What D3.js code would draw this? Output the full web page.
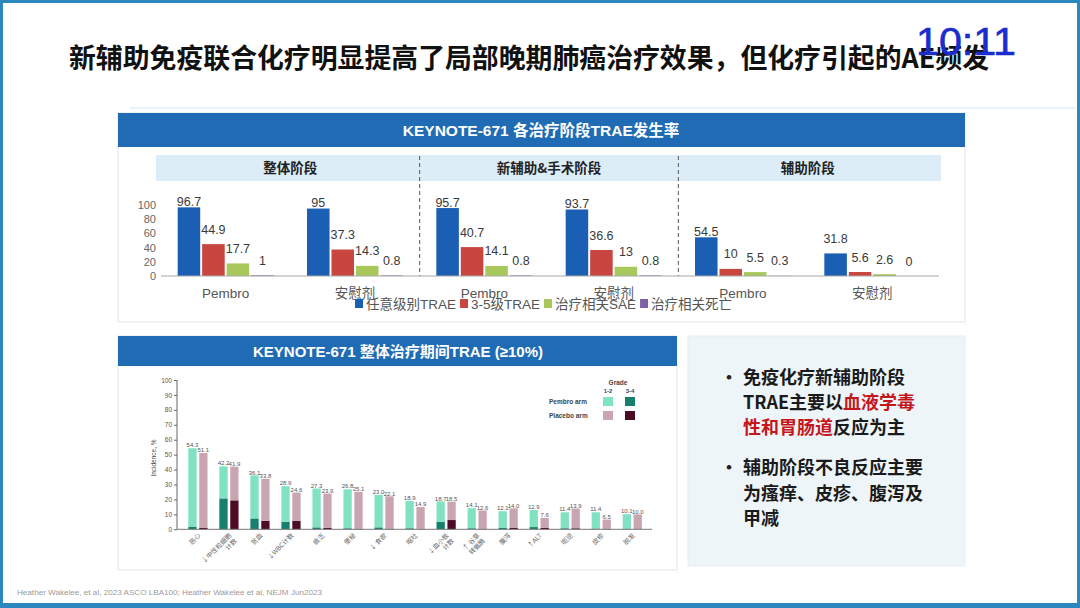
<!DOCTYPE html>
<html>
<head>
<meta charset="utf-8">
<script src="https://cdn.jsdelivr.net/npm/d3@7"></script>
<style>
body { margin: 0; background: #fff; }
svg { display: block; }
</style>
</head>
<body>
<svg id="slide" width="1080" height="608"></svg>
<script>
// ---- data: top chart (KEYNOTE-671 TRAE by phase)
const phases = ["整体阶段", "新辅助&手术阶段", "辅助阶段"];
const arms = ["Pembro", "安慰剂"];
const trSeries = ["任意级别TRAE", "3-5级TRAE", "治疗相关SAE", "治疗相关死亡"];
const anyGrade = [96.7, 95, 95.7, 93.7, 54.5, 31.8];
const grade35 = [44.9, 37.3, 40.7, 36.6, 10, 5.6];
const relatedSAE = [17.7, 14.3, 14.1, 13, 5.5, 2.6];
const relatedDeath = [1, 0.8, 0.8, 0.8, 0.3, 0];
const topTicks = [0, 20, 40, 60, 80, 100];

// ---- data: bottom chart (TRAE >= 10%)
const aeLabels = ["恶心", "↓中性粒细胞\n计数", "贫血", "↓WBC计数", "疲乏", "便秘", "↓ 食欲", "呕吐",
    "↓血小板\n计数", "↑ 谷草\n转氨酶", "腹泻", "↑ALT", "呃逆", "皮疹", "脱发"];
const pembroAll = [54.3, 42.2, 36.1, 28.9, 27.3, 26.8, 23.0, 18.9, 18.7, 14.1, 12.1, 12.9, 11.4, 11.4, 10.1];
const pembroG34 = [1.8, 20.7, 7.3, 5.1, 1.3, 0.7, 1.3, 0.7, 5.1, 0.7, 0.9, 1.5, 0.7, 0.5, 0.2];
const placeboAll = [51.1, 41.9, 33.8, 24.6, 23.9, 25.1, 22.1, 14.9, 18.5, 12.6, 14.0, 7.6, 13.9, 6.5, 10.0];
const placeboG34 = [1.1, 19.4, 5.6, 5.6, 0.9, 0.3, 0.4, 0.3, 6.2, 0.3, 0.9, 0.9, 0.7, 0.3, 0];
const bottomTicks = d3.range(0, 101, 10);

const sans = "'Liberation Sans', 'Noto Sans CJK SC', sans-serif";
const cjk = "'Noto Sans CJK SC', sans-serif";
const trColors = ["#1a5fb4", "#c8463f", "#a8c85c", "#7d5fa5"];
const armColors = {pembro: ["#80e2c3", "#16806c"], placebo: ["#c9a5b0", "#4d0b25"]};

const svg = d3.select("#slide");

// slide frame + title
svg.append("rect").attr("width", 1080).attr("height", 608).attr("fill", "#fff");
svg.append("line").attr("x1", 130).attr("x2", 1076).attr("y1", 108).attr("y2", 108)
    .attr("stroke", "#dcf0f8").attr("stroke-width", 1.5);
svg.append("text")
    .attr("x", 69).attr("y", 68)
    .attr("textLength", 920).attr("lengthAdjust", "spacingAndGlyphs")
    .attr("font-family", cjk).attr("font-weight", 700).attr("font-size", 27)
    .attr("fill", "#111")
    .text("新辅助免疫联合化疗明显提高了局部晚期肺癌治疗效果，但化疗引起的AE频发");
svg.append("text")
    .attr("x", 916).attr("y", 55)
    .attr("textLength", 100).attr("lengthAdjust", "spacingAndGlyphs")
    .attr("font-family", sans).attr("font-size", 38).attr("fill", "#1b2ccf")
    .attr("stroke", "#1b2ccf").attr("stroke-width", 0.6)
    .text("10:11");

// ================= top panel =================
svg.append("rect").attr("x", 118).attr("y", 113).attr("width", 847).attr("height", 209)
    .attr("fill", "#fff").attr("stroke", "#e2e8ed");
svg.append("rect").attr("x", 118).attr("y", 113).attr("width", 847).attr("height", 34).attr("fill", "#1f6cb4");
svg.append("text").attr("x", 541).attr("y", 136).attr("text-anchor", "middle")
    .attr("font-family", sans).attr("font-weight", 700).attr("font-size", 15.5).attr("fill", "#fff")
    .text("KEYNOTE-671 各治疗阶段TRAE发生率");
svg.append("rect").attr("x", 156).attr("y", 155).attr("width", 785).attr("height", 26).attr("fill", "#dcedf8");

const groups = phases.flatMap(p => arms.map(a => p + "|" + a));
const x0 = d3.scaleBand(groups, [161, 937]);
const x1 = d3.scaleBand(trSeries, [0, 96]).paddingInner(0.08);
const y0 = d3.scaleLinear([0, 100], [276, 205]);
const groupLeft = g => x0(g) + (x0.bandwidth() - 96) / 2;

// phase headers and dashed separators
svg.append("g").selectAll("text").data(phases).join("text")
    .attr("x", p => x0(p + "|" + arms[1]))
    .attr("y", 173).attr("text-anchor", "middle")
    .attr("font-family", cjk).attr("font-weight", 700).attr("font-size", 13.5).attr("fill", "#222")
    .text(p => p);
svg.append("g").selectAll("line").data(phases.slice(1)).join("line")
    .attr("x1", p => x0(p + "|" + arms[0])).attr("x2", p => x0(p + "|" + arms[0]))
    .attr("y1", 156).attr("y2", 276)
    .attr("stroke", "#555").attr("stroke-dasharray", "4,3");

const topRows = groups.map((g, i) => ({g, vals: [anyGrade[i], grade35[i], relatedSAE[i], relatedDeath[i]]}));
const cells = topRows.flatMap(r => r.vals.map((v, k) => ({g: r.g, s: trSeries[k], k, v})));

svg.append("g").selectAll("rect").data(cells).join("rect")
    .attr("x", d => groupLeft(d.g) + x1(d.s))
    .attr("y", d => y0(d.v))
    .attr("width", x1.bandwidth())
    .attr("height", d => y0(0) - y0(d.v))
    .attr("fill", d => trColors[d.k]);

svg.append("g").selectAll("text").data(cells).join("text")
    .attr("x", d => groupLeft(d.g) + x1(d.s) + x1.bandwidth() / 2)
    .attr("y", d => y0(d.v) - (d.k === 0 && d.v > 50 ? 6 : 15) + 4.5)
    .attr("text-anchor", "middle")
    .attr("font-family", sans).attr("font-size", 12.5).attr("fill", "#3a3a3a")
    .text(d => d.v);

svg.append("g")
    .attr("transform", "translate(159,0)")
    .call(d3.axisLeft(y0).tickValues(topTicks).tickSize(0).tickPadding(3))
    .call(g => g.select(".domain").remove())
    .call(g => g.selectAll("text").attr("font-family", sans).attr("font-size", 11).attr("fill", "#666"));

svg.append("g")
    .attr("transform", "translate(0,276)")
    .call(d3.axisBottom(x0).tickSize(0).tickPadding(12).tickFormat(d => d.split("|")[1]))
    .call(g => g.select(".domain").attr("stroke", "#a8a8a8").attr("d", "M161,0H939"))
    .call(g => g.selectAll("text").attr("font-family", sans).attr("font-size", 13.5).attr("fill", "#555"));

// legend
const legend = svg.append("g").attr("transform", "translate(355,304)");
let lx = 0;
trSeries.forEach((s, k) => {
    legend.append("rect").attr("x", lx).attr("y", -5).attr("width", 8).attr("height", 9).attr("fill", trColors[k]);
    const t = legend.append("text").attr("x", lx + 11).attr("y", 5)
        .attr("font-family", sans).attr("font-size", 13.5).attr("fill", "#555").text(s);
    lx += 11 + t.node().getComputedTextLength() + 4;
});

// ================= bottom-left panel =================
svg.append("rect").attr("x", 118).attr("y", 336).attr("width", 559).attr("height", 234)
    .attr("fill", "#fff").attr("stroke", "#e2e8ed");
svg.append("rect").attr("x", 118).attr("y", 336).attr("width", 559).attr("height", 30).attr("fill", "#1f6cb4");
svg.append("text").attr("x", 398).attr("y", 357).attr("text-anchor", "middle")
    .attr("font-family", sans).attr("font-weight", 700).attr("font-size", 15).attr("fill", "#fff")
    .text("KEYNOTE-671 整体治疗期间TRAE (≥10%)");

const xa = d3.scaleBand(aeLabels, [182.4, 647.8]);
const xArm = d3.scaleBand(["pembro", "placebo"], [-9.6, 9.6]).paddingInner(0.24);
const y1 = d3.scaleLinear([0, 100], [529.3, 380]);

const aeBars = aeLabels.flatMap((a, i) => [
    {a, arm: "pembro", all: pembroAll[i], g34: pembroG34[i]},
    {a, arm: "placebo", all: placeboAll[i], g34: placeboG34[i]}
]);
const barX = d => xa(d.a) + xa.bandwidth() / 2 + xArm(d.arm);

const bars = svg.append("g");
bars.selectAll(".lo").data(aeBars).join("rect").attr("class", "lo")
    .attr("x", barX).attr("width", xArm.bandwidth())
    .attr("y", d => y1(d.g34)).attr("height", d => y1(0) - y1(d.g34))
    .attr("fill", d => armColors[d.arm][1]);
bars.selectAll(".hi").data(aeBars).join("rect").attr("class", "hi")
    .attr("x", barX).attr("width", xArm.bandwidth())
    .attr("y", d => y1(d.all)).attr("height", d => y1(d.g34) - y1(d.all))
    .attr("fill", d => armColors[d.arm][0]);
bars.selectAll("text").data(aeBars).join("text")
    .attr("x", d => barX(d) + xArm.bandwidth() / 2)
    .attr("y", d => y1(d.all) - 0.8)
    .attr("text-anchor", "middle")
    .attr("font-family", sans).attr("font-size", 6).attr("fill", "#555")
    .text(d => d3.format(".1f")(d.all));

svg.append("g")
    .attr("transform", "translate(177,0)")
    .call(d3.axisLeft(y1).tickValues(bottomTicks).tickSize(3).tickPadding(2))
    .call(g => g.select(".domain").attr("stroke", "#666").attr("d", "M0,380V529.3"))
    .call(g => g.selectAll("line").attr("stroke", "#666"))
    .call(g => g.selectAll("text").attr("font-family", sans).attr("font-size", 6.5).attr("fill", "#555"));
svg.append("line").attr("x1", 177).attr("x2", 652).attr("y1", y1(0)).attr("y2", y1(0))
    .attr("stroke", "#777");
svg.append("text")
    .attr("transform", "translate(156,458) rotate(-90)")
    .attr("text-anchor", "middle")
    .attr("font-family", sans).attr("font-size", 6.5).attr("fill", "#444")
    .text("Incidence, %");

// rotated category labels
svg.append("g").selectAll("text").data(aeLabels).join("text")
    .attr("transform", a => `translate(${xa(a) + xa.bandwidth() / 2 + 3},536) rotate(-45)`)
    .attr("text-anchor", "end")
    .attr("font-family", cjk).attr("font-size", 6.5).attr("fill", "#666")
    .selectAll("tspan").data(a => a.split("\n")).join("tspan")
    .attr("x", 0).attr("dy", (l, i) => i ? "1.15em" : 0)
    .text(l => l);

// grade legend
const gl = svg.append("g").attr("font-family", sans).attr("font-weight", 700).attr("fill", "#444");
gl.append("text").attr("x", 618).attr("y", 385).attr("text-anchor", "middle").attr("font-size", 6.5).text("Grade");
gl.append("text").attr("x", 608).attr("y", 393).attr("text-anchor", "middle").attr("font-size", 6).text("1-2");
gl.append("text").attr("x", 630).attr("y", 393).attr("text-anchor", "middle").attr("font-size", 6).text("3-4");
[["Pembro arm", "pembro", 397], ["Placebo arm", "placebo", 411]].forEach(([name, arm, yy]) => {
    gl.append("text").attr("x", 549).attr("y", yy + 6.5).attr("font-size", 6.5).text(name);
    gl.append("rect").attr("x", 603).attr("y", yy).attr("width", 10).attr("height", 9).attr("fill", armColors[arm][0]);
    gl.append("rect").attr("x", 625).attr("y", yy).attr("width", 10).attr("height", 9).attr("fill", armColors[arm][1]);
});

// ================= right text panel =================
svg.append("rect").attr("x", 688).attr("y", 336).attr("width", 277).attr("height", 230)
    .attr("fill", "#eef5f9").attr("stroke", "#e6eef3");
const notes = [
    {bullet: true, y: 384, parts: [["免疫化疗新辅助阶段", false]]},
    {y: 409, parts: [["TRAE主要以", false], ["血液学毒", true]]},
    {y: 434, parts: [["性和胃肠道", true], ["反应为主", false]]},
    {bullet: true, y: 474, parts: [["辅助阶段不良反应主要", false]]},
    {y: 500, parts: [["为瘙痒、皮疹、腹泻及", false]]},
    {y: 525, parts: [["甲减", false]]}
];
const noteG = svg.append("g").attr("font-family", cjk).attr("font-weight", 700).attr("font-size", 18);
notes.forEach(n => {
    if (n.bullet) noteG.append("text").attr("x", 720).attr("y", n.y).attr("fill", "#222").text("•");
    noteG.append("text").attr("x", 743).attr("y", n.y)
        .selectAll("tspan").data(n.parts).join("tspan")
        .attr("fill", p => p[1] ? "#c4161c" : "#1a1a1a")
        .text(p => p[0]);
});

// footer + slide border
svg.append("text").attr("x", 17).attr("y", 595)
    .attr("textLength", 305).attr("lengthAdjust", "spacingAndGlyphs")
    .attr("font-family", sans).attr("font-size", 7.5).attr("fill", "#9a9a9a")
    .text("Heather Wakelee, et al, 2023 ASCO LBA100;   Heather Wakelee et al, NEJM Jun2023");
svg.append("rect").attr("x", 1.5).attr("y", 1.5).attr("width", 1077).attr("height", 604)
    .attr("fill", "none").attr("stroke", "#2c87be").attr("stroke-width", 3);
svg.append("rect").attr("x", 0).attr("y", 603).attr("width", 1080).attr("height", 5).attr("fill", "#2c87be");
</script>
</body>
</html>
